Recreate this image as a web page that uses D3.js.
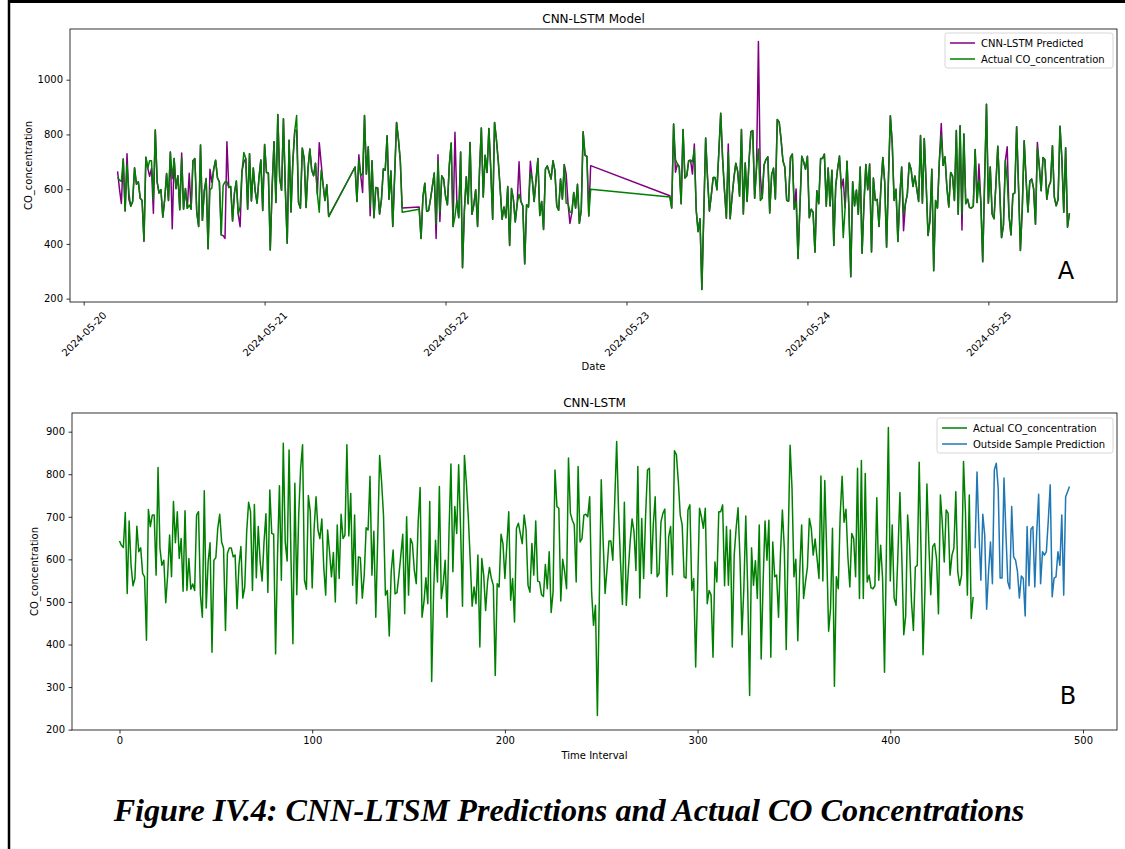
<!DOCTYPE html>
<html><head><meta charset="utf-8">
<script src="https://cdn.jsdelivr.net/npm/d3@7"></script>
<style>body{margin:0;background:#fff} svg{display:block}</style>
</head><body><svg id="c" width="1125" height="849"></svg>
<script>
// ---------- DATA ----------
const actual = [
643,633,628,710,520,690,586,538,555,678,618,627,567,559,410,717,677,704,704,563,
816,626,586,598,498,563,657,559,736,639,712,602,649,525,714,527,602,530,542,527,
704,712,516,464,761,486,594,639,382,598,604,673,706,641,626,433,614,627,627,606,
610,484,586,630,509,535,665,734,712,527,729,557,677,594,549,641,707,522,763,661,
659,378,610,773,551,873,641,596,857,600,402,779,517,704,814,869,551,530,750,712,
533,673,747,669,649,695,582,516,669,618,559,616,500,681,555,706,649,657,869,655,
755,539,704,496,606,604,509,563,674,669,795,563,666,464,650,844,783,704,516,527,
420,571,622,519,522,563,610,659,472,700,516,649,637,574,543,688,769,464,500,557,
496,736,313,523,645,547,771,508,543,598,464,665,824,571,724,661,822,673,490,844,
780,700,600,490,535,496,610,394,602,563,480,547,581,555,539,327,543,535,659,637,
555,633,712,504,555,453,673,685,661,637,704,669,539,523,637,563,690,549,547,517,
513,588,531,618,475,523,810,724,720,502,600,571,531,838,708,692,681,547,818,641,
649,704,706,700,747,523,445,492,233,508,787,641,520,578,643,643,598,736,877,712,
594,494,734,492,571,641,695,665,574,818,509,696,555,700,810,814,567,681,747,559,
567,688,708,718,513,653,677,564,855,846,783,704,681,559,556,716,728,527,555,347,
531,720,700,673,720,496,527,516,370,594,547,712,712,728,538,677,539,669,394,610,
673,721,602,423,531,702,531,280,627,539,597,508,681,366,547,690,598,692,370,641,
559,563,464,610,716,626,388,641,868,767,559,600,409,571,681,508,547,582,696,673,
610,648,602,555,796,549,785,618,431,484,673,302,559,531,704,795,687,718,606,535,
661,649,559,814,508,832,508,802,547,563,533,531,538,745,551,633,555,335,626,910,
549,681,509,492,618,757,602,423,468,704,633,500,433,582,586,828,610,376,531,777,
637,517,630,637,602,472,751,685,594,716,708,563,610,626,759,571,539,563,830,712,
516,751,461,512];

const predicted = [
665,600,548,710,520,729,562,538,555,678,618,627,567,559,410,717,677,647,676,512,
816,626,586,598,498,563,657,559,736,455,712,602,649,525,732,527,602,530,658,527,
704,712,516,464,761,486,594,639,382,673,625,673,706,641,626,433,430,420,773,606,
610,484,586,630,509,463,665,700,712,527,729,557,677,594,549,641,707,522,763,661,
659,378,610,773,551,873,641,596,857,600,402,779,517,704,814,814,551,530,750,712,
533,673,747,669,649,695,582,770,696,618,559,616,500,681,555,726,649,588,869,655,
755,503,704,496,606,604,509,563,674,669,795,563,666,464,650,844,783,704,531,535,
420,571,622,519,522,563,610,659,420,726,482,649,637,574,543,688,769,464,808,557,
496,736,313,523,645,547,771,508,543,598,464,665,824,571,724,661,822,673,490,844,
780,700,600,490,535,496,610,394,602,563,480,547,700,555,539,327,543,535,702,637,
555,633,712,504,555,453,673,685,661,637,704,669,539,523,637,563,690,655,547,475,
513,588,531,618,475,523,810,724,720,502,686,576,531,838,662,692,681,547,818,641,
649,704,706,655,765,523,445,492,233,508,787,641,520,578,643,643,598,736,877,712,
594,494,765,492,571,641,695,665,574,818,509,696,555,700,810,814,567,681,1140,650,
567,688,708,718,513,653,677,564,855,846,783,704,681,559,556,716,728,527,601,347,
531,720,700,673,720,496,527,516,370,594,547,712,712,728,538,677,539,669,394,610,
673,721,602,637,531,702,531,280,627,539,597,508,681,366,547,690,598,692,370,641,
559,563,464,610,716,626,388,641,868,767,559,600,409,571,681,448,547,582,696,673,
610,648,602,555,796,549,785,618,431,484,673,302,559,531,704,840,687,718,606,535,
661,649,559,814,508,832,451,802,547,563,533,531,538,745,551,692,555,335,626,910,
549,681,509,492,618,757,602,423,468,704,755,500,433,582,586,828,610,376,531,777,
637,517,630,637,602,472,771,685,594,716,708,563,610,626,759,571,539,563,830,712,
516,751,461,512];

const outsideSample = [
626,805,665,551,706,657,483,571,641,543,810,826,767,556,556,791,661,547,531,724,
606,598,571,509,561,555,467,677,538,671,677,535,665,753,543,618,610,618,692,775,
512,556,559,618,586,704,516,747,759,771];
const outsideStartIndex = 444;

// timestamps of the actual series: 15-minute readings in four contiguous runs
const segStarts = ["2024-05-20T04:30:00Z","2024-05-21T12:00:00Z","2024-05-21T20:30:00Z","2024-05-23T05:45:00Z"];
const segCounts = [113, 26, 92, 213];
const stepMinutes = 15;

const dateTicks = ["2024-05-20","2024-05-21","2024-05-22","2024-05-23","2024-05-24","2024-05-25"];
const yTicksA = [200,400,600,800,1000];
const yTicksB = [200,300,400,500,600,700,800,900];
const xTicksB = [0,100,200,300,400,500];

// ---------- BUILD ----------
const times = [];
segStarts.forEach((s,k)=>{
  const t0 = Date.parse(s);
  for(let j=0;j<segCounts[k];j++) times.push(new Date(t0 + j*stepMinutes*60000));
});

const svg = d3.select("#c");
const FONT = "DejaVu Sans, sans-serif";
const pad = (ext)=>{const a=+ext[0], b=+ext[1], r=b-a; return [a-0.05*r, b+0.05*r];};

// outer frame
svg.append("line").attr("x1",9).attr("x2",9).attr("y1",0).attr("y2",849).attr("stroke","#000").attr("stroke-width",2.5);
svg.append("line").attr("x1",8).attr("x2",1125).attr("y1",1.5).attr("y2",1.5).attr("stroke","#000").attr("stroke-width",3);

function frame(g, L, T, R, B){
  g.append("rect").attr("x",L).attr("y",T).attr("width",R-L).attr("height",B-T)
    .attr("fill","none").attr("stroke","#000").attr("stroke-width",0.8);
}
function styleAxis(a){
  a.selectAll("path").remove();
  a.selectAll("line").attr("stroke","#000").attr("stroke-width",0.8);
  a.selectAll("text").attr("font-family",FONT).attr("font-size","10px").attr("fill","#000");
}
function legend(g, x, y, w, items){
  g.append("rect").attr("x",x).attr("y",y).attr("width",w).attr("height",35).attr("rx",2.5)
    .attr("fill","rgba(255,255,255,0.8)").attr("stroke","#cccccc").attr("stroke-width",0.8);
  items.forEach((it,i)=>{
    const cy = y + 10 + i*16;
    g.append("line").attr("x1",x+5).attr("x2",x+30).attr("y1",cy).attr("y2",cy)
      .attr("stroke",it.color).attr("stroke-width",1.5);
    g.append("text").attr("x",x+36).attr("y",cy).attr("dy","0.35em")
      .attr("font-family",FONT).attr("font-size","10px").text(it.label);
  });
}

// ---------- CHART A ----------
{
  const L=70,R=1117,T=29,B=302;
  const g = svg.append("g");
  const x = d3.scaleUtc().domain(pad(d3.extent(times)).map(v=>new Date(v))).range([L,R]);
  const both = actual.concat(predicted);
  const y = d3.scaleLinear().domain(pad([d3.min(both), d3.max(both)])).range([B,T]);
  g.append("clipPath").attr("id","clipA").append("rect").attr("x",L).attr("y",T).attr("width",R-L).attr("height",B-T);
  const line = d3.line().x((d,i)=>x(times[i])).y(d=>y(d));
  const pl = g.append("g").attr("clip-path","url(#clipA)");
  pl.append("path").datum(predicted).attr("d",line).attr("fill","none").attr("stroke","purple").attr("stroke-width",1.5).attr("stroke-linejoin","round");
  pl.append("path").datum(actual).attr("d",line).attr("fill","none").attr("stroke","green").attr("stroke-width",1.5).attr("stroke-linejoin","round");
  frame(g,L,T,R,B);
  const ax = g.append("g").attr("transform",`translate(0,${B})`)
    .call(d3.axisBottom(x).tickValues(dateTicks.map(s=>new Date(s+"T00:00:00Z"))).tickFormat(d3.utcFormat("%Y-%m-%d")).tickSizeOuter(0).tickSize(3.5).tickPadding(3));
  styleAxis(ax);
  ax.selectAll("text").attr("text-anchor","middle").attr("y",0).attr("dy","0.35em")
    .attr("transform","translate(0,32) rotate(-45)");
  const ay = g.append("g").attr("transform",`translate(${L},0)`)
    .call(d3.axisLeft(y).tickValues(yTicksA).tickFormat(d3.format("d")).tickSizeOuter(0).tickSize(3.5).tickPadding(3.5));
  styleAxis(ay);
  g.append("text").attr("x",(L+R)/2).attr("y",19).attr("text-anchor","middle").attr("dy","0.35em")
    .attr("font-family",FONT).attr("font-size","12px").text("CNN-LSTM Model");
  g.append("text").attr("x",(L+R)/2).attr("y",366).attr("text-anchor","middle").attr("dy","0.35em")
    .attr("font-family",FONT).attr("font-size","10px").text("Date");
  g.append("text").attr("transform",`translate(28,${(T+B)/2}) rotate(-90)`).attr("text-anchor","middle").attr("dy","0.35em")
    .attr("font-family",FONT).attr("font-size","10px").text("CO_concentration");
  g.append("text").attr("x",1066).attr("y",279).attr("text-anchor","middle")
    .attr("font-family",FONT).attr("font-size","24px").text("A");
  legend(g, 945, 33, 168, [{label:"CNN-LSTM Predicted",color:"purple"},{label:"Actual CO_concentration",color:"green"}]);
}

// ---------- CHART B ----------
{
  const L=72,R=1117,T=413,B=730;
  const g = svg.append("g");
  const lastIdx = outsideStartIndex + outsideSample.length - 1;
  const x = d3.scaleLinear().domain(pad([0,lastIdx])).range([L,R]);
  const all = actual.concat(outsideSample);
  const y = d3.scaleLinear().domain(pad([d3.min(all), d3.max(all)])).range([B,T]);
  g.append("clipPath").attr("id","clipB").append("rect").attr("x",L).attr("y",T).attr("width",R-L).attr("height",B-T);
  const pl = g.append("g").attr("clip-path","url(#clipB)");
  pl.append("path").datum(actual).attr("d",d3.line().x((d,i)=>x(i)).y(d=>y(d)))
    .attr("fill","none").attr("stroke","green").attr("stroke-width",1.5).attr("stroke-linejoin","round");
  pl.append("path").datum(outsideSample).attr("d",d3.line().x((d,i)=>x(outsideStartIndex+i)).y(d=>y(d)))
    .attr("fill","none").attr("stroke","#1f77b4").attr("stroke-width",1.5).attr("stroke-linejoin","round");
  frame(g,L,T,R,B);
  const ax = g.append("g").attr("transform",`translate(0,${B})`)
    .call(d3.axisBottom(x).tickValues(xTicksB).tickSizeOuter(0).tickSize(3.5).tickPadding(3.5));
  styleAxis(ax);
  const ay = g.append("g").attr("transform",`translate(${L},0)`)
    .call(d3.axisLeft(y).tickValues(yTicksB).tickSizeOuter(0).tickSize(3.5).tickPadding(3.5));
  styleAxis(ay);
  g.append("text").attr("x",(L+R)/2).attr("y",403).attr("text-anchor","middle").attr("dy","0.35em")
    .attr("font-family",FONT).attr("font-size","12px").text("CNN-LSTM");
  g.append("text").attr("x",(L+R)/2).attr("y",755).attr("text-anchor","middle").attr("dy","0.35em")
    .attr("font-family",FONT).attr("font-size","10px").text("Time Interval");
  g.append("text").attr("transform",`translate(34,${(T+B)/2}) rotate(-90)`).attr("text-anchor","middle").attr("dy","0.35em")
    .attr("font-family",FONT).attr("font-size","10px").text("CO_concentration");
  g.append("text").attr("x",1068).attr("y",704).attr("text-anchor","middle")
    .attr("font-family",FONT).attr("font-size","24px").text("B");
  legend(g, 937, 418, 176, [{label:"Actual CO_concentration",color:"green"},{label:"Outside Sample Prediction",color:"#1f77b4"}]);
}

// ---------- CAPTION ----------
const cap = svg.append("text").attr("x",569).attr("y",821).attr("text-anchor","middle")
  .attr("font-family","Liberation Serif, 'Times New Roman', serif").attr("font-weight","bold").attr("font-style","italic")
  .attr("font-size","32px").text("Figure IV.4: CNN-LTSM Predictions and Actual CO Concentrations");
const w = cap.node().getComputedTextLength();
cap.attr("font-size", (32*911/w).toFixed(2)+"px");
</script></body></html>
